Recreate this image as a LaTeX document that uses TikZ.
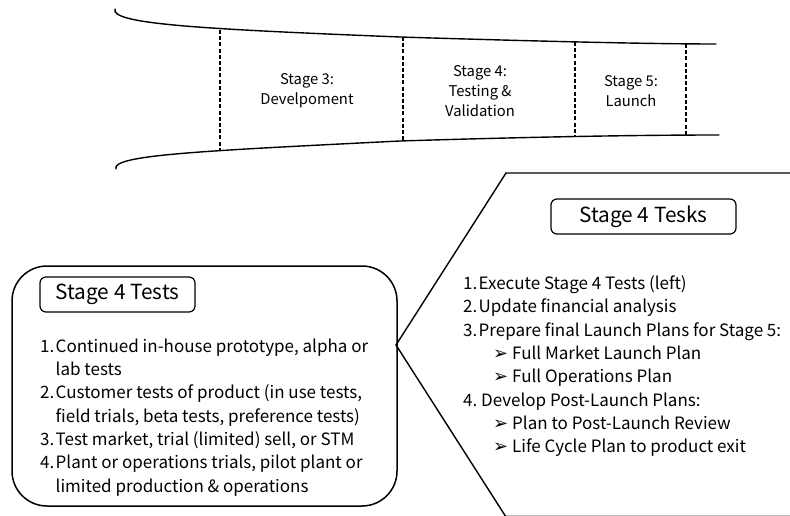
\documentclass[tikz,border=0pt]{standalone}
\usepackage{fontspec}
\setmainfont{Noto Sans CJK SC}
\newfontfamily\arrowfont{DejaVu Sans}
\newcommand{\bulletarrow}{\makebox[19pt][l]{{\arrowfont\fontsize{18}{18}\selectfont ➢}}}
\newcommand{\numlab}[1]{\makebox[15.5pt][l]{#1}}
\begin{document}
\begin{tikzpicture}[x=1pt,y=-1pt,
  shapeline/.style={line width=1.4pt, line cap=round},
  divider/.style={line width=1.2pt, dash pattern=on 4pt off 2.2pt},
  titlebox/.style={draw, line width=1.2pt, rounded corners=6pt, inner sep=0pt, minimum height=35pt, font=\fontsize{20.8}{25}\selectfont},
  stagelabel/.style={align=center, font=\fontsize{14.8}{20}\selectfont, inner sep=0pt},
  listtext/.style={align=left, font=\fontsize{17}{23.3}\selectfont, inner sep=0pt, anchor=north west},
  bigbox/.style={draw, line width=1.5pt, rounded corners=35pt, inner sep=0pt}
]
\useasboundingbox (0,0) rectangle (790,516);
% funnel
\draw[shapeline] (115,9) .. controls (110,24) and (200,29) .. (400,37) .. controls (560,42) and (660,44) .. (716,44);
\draw[shapeline] (116,169) .. controls (111,155) and (200,151) .. (400,141) .. controls (560,136) and (660,135) .. (719,135);
\draw[divider] (220,30) -- (220,150);
\draw[divider] (403,37) -- (403,141);
\draw[divider] (575,42) -- (575,135.5);
\draw[divider] (686,44) -- (686,135);
\node[stagelabel] (s3) at (307,91) {Stage 3:\\Develpoment};
\node[stagelabel] (s4) at (480,91) {Stage 4:\\Testing \&\\Validation};
\node[stagelabel] (s5) at (631,91) {Stage 5:\\Launch};
% left box
\node[bigbox, minimum width=385pt, minimum height=240pt] (testsbox) at (204.5,386) {};
\node[titlebox, minimum width=155pt] (teststitle) at (117.5,294.5) {Stage 4 Tests};
\node[listtext] (testslist) at (40,338.5) {%
\numlab{1.}Continued in-house prototype, alpha or\\
\hspace*{15.5pt}lab tests\\
\numlab{2.}Customer tests of product (in use tests,\\
\hspace*{15.5pt}field trials, beta tests, preference tests)\\
\numlab{3.}Test market, trial (limited) sell, or STM\\
\numlab{4.}Plant or operations trials, pilot plant or\\
\hspace*{15.5pt}limited production \& operations};
% chevron
\coordinate (apex) at (396,345);
\coordinate (ctop) at (506,173);
\coordinate (cbot) at (506,517);
\draw[shapeline] (790,173) -- (ctop) -- (apex) -- (cbot);
\draw[line width=0.8pt, black!25] (506,515.5) -- (790,515.5);
\node[titlebox, minimum width=185pt] (taskstitle) at (643.5,216.5) {Stage 4 Tesks};
\node[listtext] (taskslist) at (463,275.5) {%
\numlab{1.}Execute Stage 4 Tests (left)\\
\numlab{2.}Update financial analysis\\
\numlab{3.}Prepare final Launch Plans for Stage 5:\\
\hspace*{30pt}\bulletarrow Full Market Launch Plan\\
\hspace*{30pt}\bulletarrow Full Operations Plan\\
\makebox[18pt][l]{4.}Develop Post-Launch Plans:\\
\hspace*{30pt}\bulletarrow Plan to Post-Launch Review\\
\hspace*{30pt}\bulletarrow Life Cycle Plan to product exit};
\end{tikzpicture}
\end{document}
